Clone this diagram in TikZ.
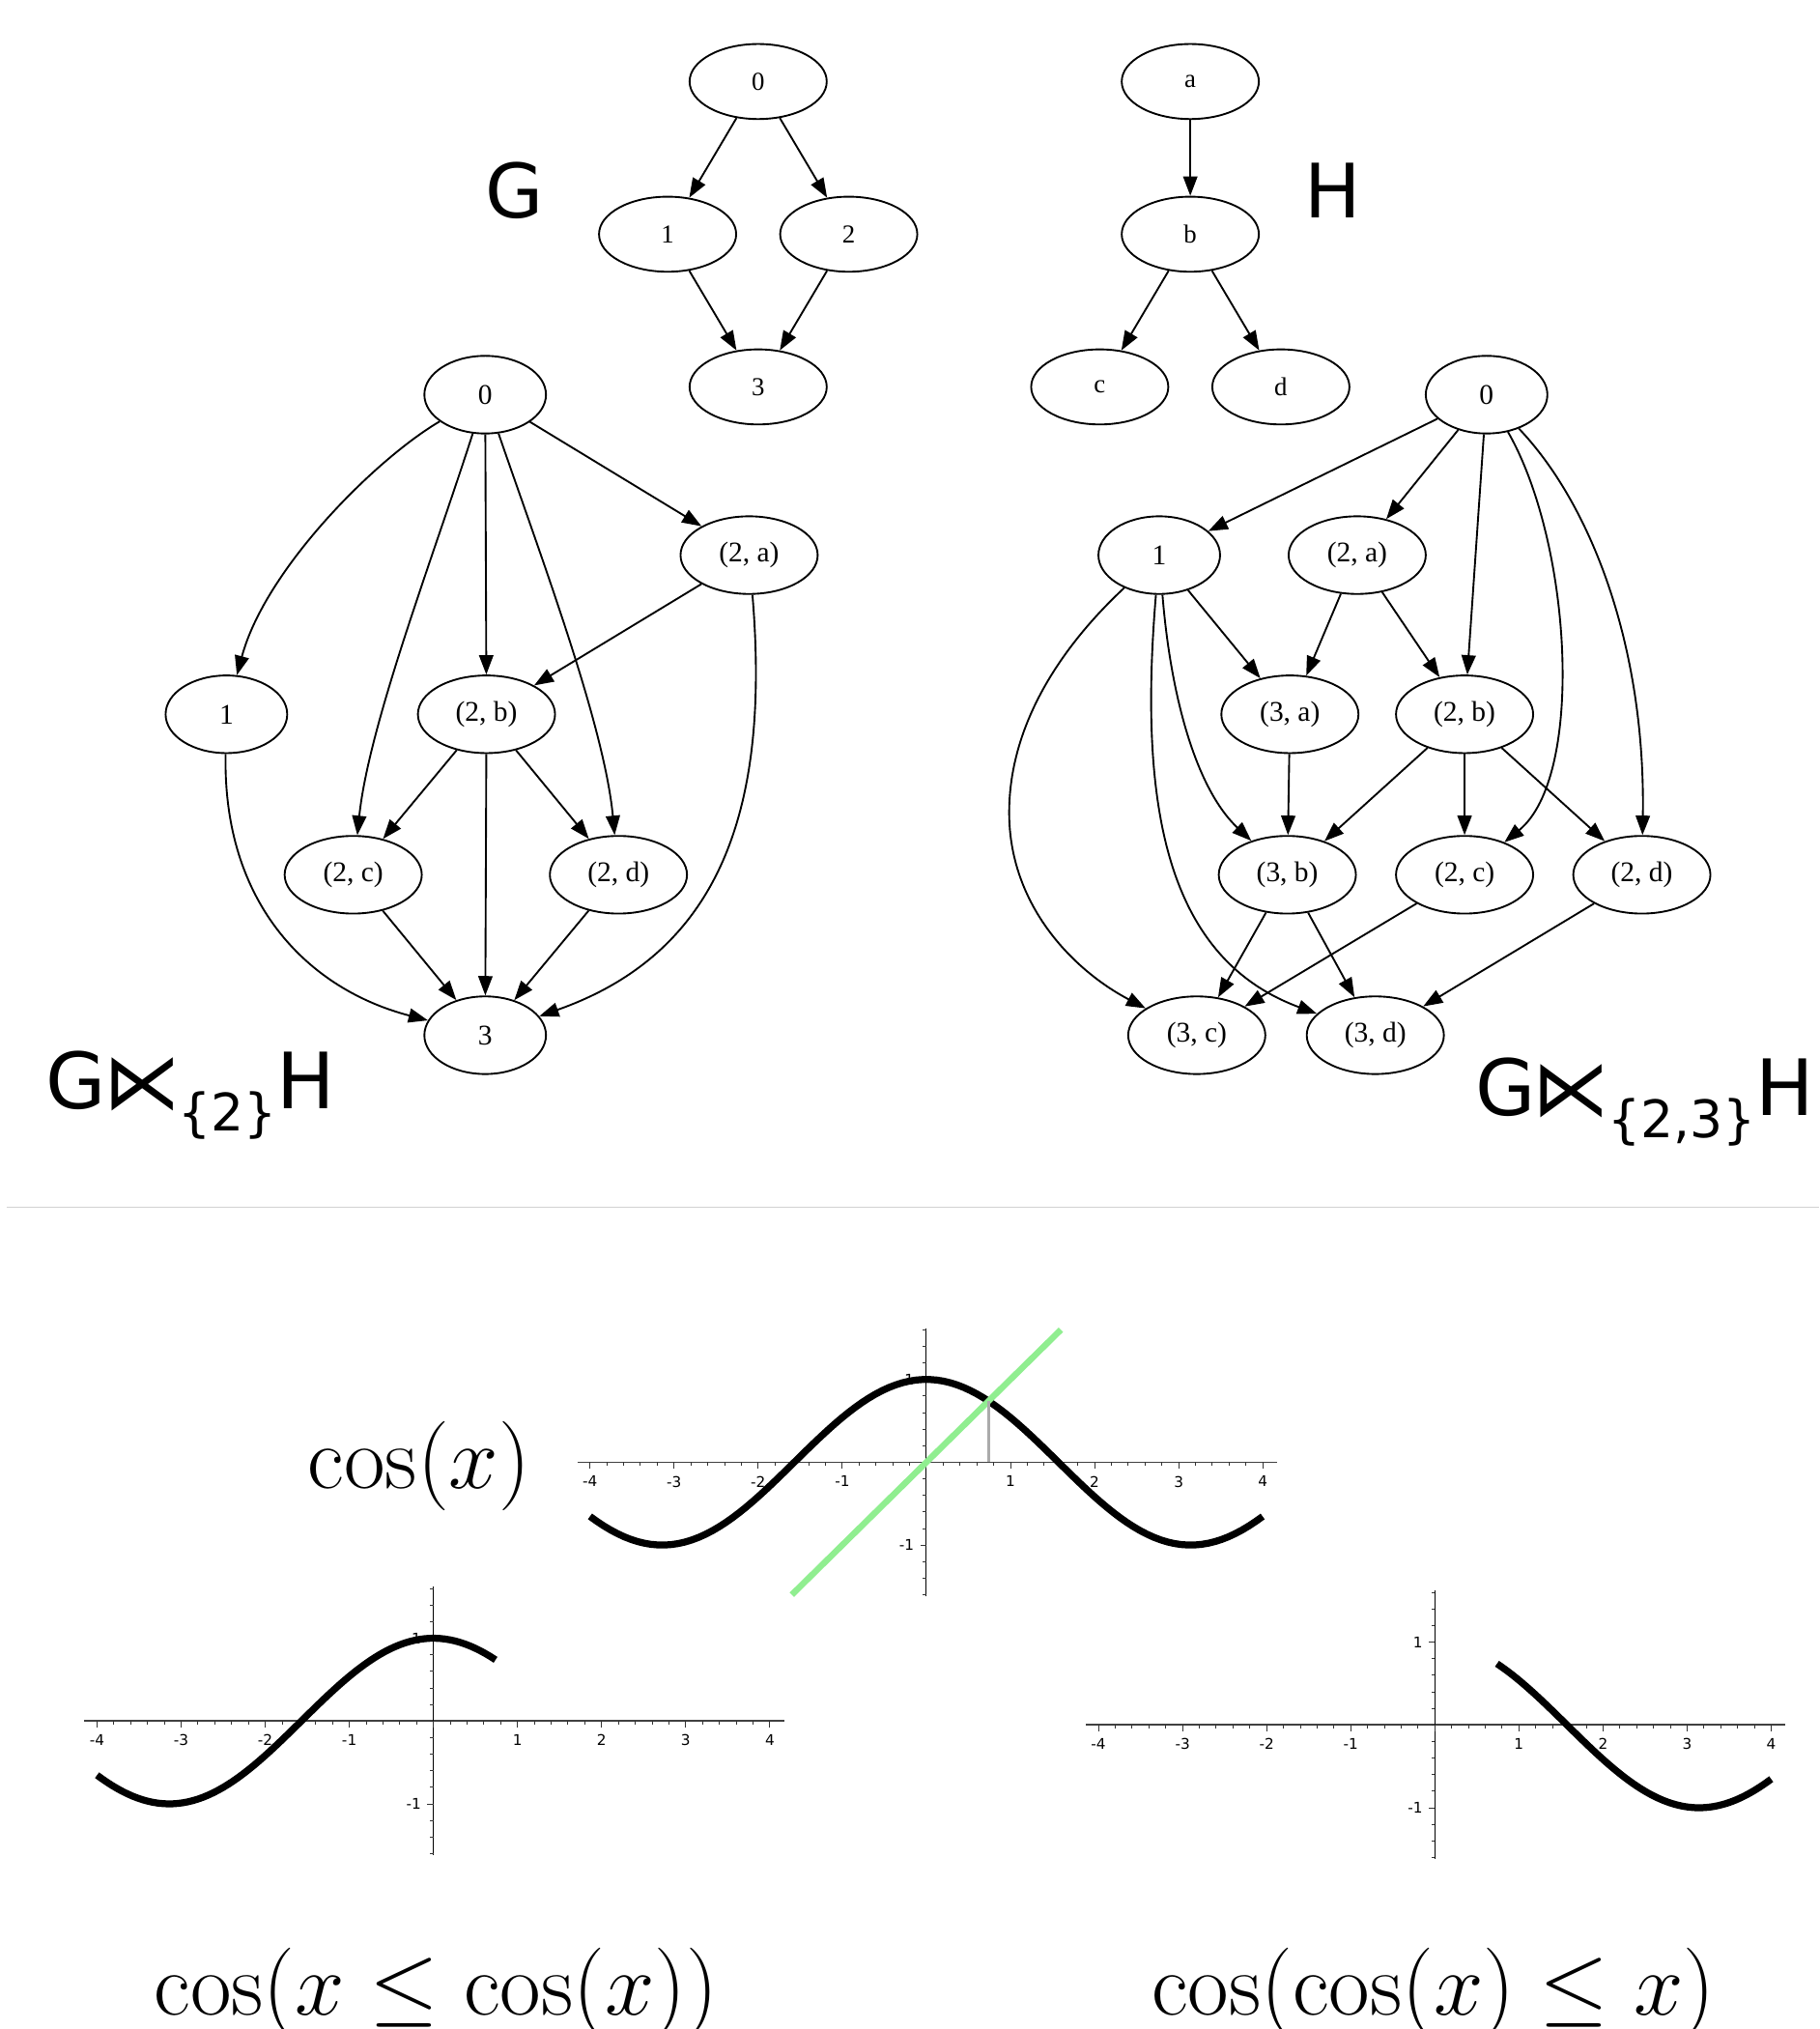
\RequirePackage{fix-cm}
\documentclass[tikz,border=0pt]{standalone}
\usepackage{amsmath}
\usepackage{fontspec}
\usepackage{tikz}
\usetikzlibrary{shapes.geometric, arrows.meta}
\newfontfamily\gvfont{Liberation Serif}
\newfontfamily\dvfont{DejaVu Sans}
\definecolor{lightgreen}{RGB}{144,238,144}
\tikzset{
  topv/.style={ellipse, draw, line width=0.7pt, minimum width=53pt,
    minimum height=29pt, inner sep=0pt, font=\gvfont\fontsize{10}{12}\selectfont},
  vtx/.style={ellipse, draw, line width=0.7pt, minimum width=47pt,
    minimum height=30pt, inner sep=0pt, font=\gvfont\fontsize{11}{13}\selectfont},
  pairv/.style={vtx, minimum width=53pt},
  arr/.style={-{Triangle[length=7.5pt, width=5.5pt]}, line width=0.7pt},
  gname/.style={inner sep=0pt, font=\dvfont\fontsize{29}{34}\selectfont},
  prodname/.style={inner sep=0pt, font=\dvfont\fontsize{30}{36}\selectfont},
  formula/.style={inner sep=0pt, font=\fontsize{34.5}{40}\selectfont},
  sepline/.style={gray!35, line width=0.5pt},
  axisline/.style={black!75, line width=0.6pt},
  yaxisline/.style={black, line width=0.4pt},
  tickline/.style={black!80, line width=0.35pt},
  ticklabel/.style={inner sep=1pt, font=\dvfont\fontsize{5.7}{6.5}\selectfont},
  cosline/.style={black, line width=2.7pt},
  idline/.style={lightgreen, line width=2.4pt},
  fixline/.style={black!33, line width=1.2pt},
}
\newcommand{\prodsub}[1]{\raisebox{-8.5pt}{\fontsize{20}{24}\selectfont\{#1\}}}
\newcommand{\cosframe}{%
  \draw[axisline] (-4.15,0) -- (4.17,0);
  \draw[yaxisline] (0,-1.62) -- (0,1.62);
  \foreach \i in {-20,...,20}
    \draw[tickline] (\i/5,0) -- ++(0,-1.3pt);
  \foreach \i in {-4,...,4}
    \draw[tickline] (\i,0) -- ++(0,-2.4pt);
  \foreach \i in {-8,...,8}
    \draw[tickline] (0,\i/5) -- ++(-1.3pt,0);
  \foreach \i in {-1,1}
    \draw[tickline] (0,\i) -- ++(-2.4pt,0);
  \foreach \i in {-4,-3,-2,-1,1,2,3,4}
    \node[ticklabel, below] at (\i,-0.13) {\i};
  \foreach \i in {-1,1}
    \node[ticklabel, left] at (-0.11,\i) {\i};
}
\begin{document}
\begin{tikzpicture}[x=0.5pt, y=-0.5pt]
  \useasboundingbox (0,0) rectangle (1406,1568);

  % G
  \node[topv] (g0) at (586,63) {0};
  \node[topv] (g1) at (516,181) {1};
  \node[topv] (g2) at (656,181) {2};
  \node[topv] (g3) at (586,299) {3};
  \node[gname] (gtitle) at (398,147) {G};
  \draw[arr] (g0) -- (g1);
  \draw[arr] (g0) -- (g2);
  \draw[arr] (g1) -- (g3);
  \draw[arr] (g2) -- (g3);

  % H
  \node[topv] (ha) at (920,63) {a};
  \node[topv] (hb) at (920,181) {b};
  \node[topv] (hc) at (850,299) {c};
  \node[topv] (hd) at (990,299) {d};
  \node[gname] (htitle) at (1030,147) {H};
  \draw[arr] (ha) -- (hb);
  \draw[arr] (hb) -- (hc);
  \draw[arr] (hb) -- (hd);

  % G semidirect {2} H
  \node[vtx] (l0) at (375,305) {0};
  \node[pairv] (l2a) at (579,429) {(2, a)};
  \node[vtx] (l1) at (175,552) {1};
  \node[pairv] (l2b) at (376,552) {(2, b)};
  \node[pairv] (l2c) at (273,676) {(2, c)};
  \node[pairv] (l2d) at (478,676) {(2, d)};
  \node[vtx] (l3) at (375,800) {3};
  \node[prodname, anchor=base west] (ltitle) at (35,857) {G\kern-1pt⋉\kern-1pt\prodsub{2}H};
  \draw[arr] (l0) -- (l2a);
  \draw[arr] (l0) .. controls (290,355) and (205,440) .. (l1);
  \draw[arr] (l0) .. controls (335,430) and (285,560) .. (l2c);
  \draw[arr] (l0) -- (l2b);
  \draw[arr] (l0) .. controls (418,430) and (467,560) .. (l2d);
  \draw[arr] (l2a) -- (l2b);
  \draw[arr] (l2a) .. controls (595,620) and (560,735) .. (l3);
  \draw[arr] (l1) .. controls (172,700) and (240,765) .. (l3);
  \draw[arr] (l2b) -- (l2c);
  \draw[arr] (l2b) -- (l3);
  \draw[arr] (l2b) -- (l2d);
  \draw[arr] (l2c) -- (l3);
  \draw[arr] (l2d) -- (l3);

  % G semidirect {2,3} H
  \node[vtx] (r0) at (1149,305) {0};
  \node[vtx] (r1) at (896,429) {1};
  \node[pairv] (r2a) at (1049,429) {(2, a)};
  \node[pairv] (r3a) at (997,552) {(3, a)};
  \node[pairv] (r2b) at (1132,552) {(2, b)};
  \node[pairv] (r3b) at (995,676) {(3, b)};
  \node[pairv] (r2c) at (1132,676) {(2, c)};
  \node[pairv] (r2d) at (1269,676) {(2, d)};
  \node[pairv] (r3c) at (925,800) {(3, c)};
  \node[pairv] (r3d) at (1063,800) {(3, d)};
  \node[prodname, anchor=base west] (rtitle) at (1140,862) {G\kern-1pt⋉\kern-1pt\prodsub{2,3}H};
  \draw[arr] (r0) -- (r1);
  \draw[arr] (r0) -- (r2a);
  \draw[arr] (r0) -- (r2b);
  \draw[arr] (r0) .. controls (1215,420) and (1225,600) .. (r2c);
  \draw[arr] (r0) .. controls (1230,390) and (1272,500) .. (r2d);
  \draw[arr] (r1) -- (r3a);
  \draw[arr] (r1) .. controls (905,540) and (925,610) .. (r3b);
  \draw[arr] (r1) .. controls (880,620) and (900,740) .. (r3d);
  \draw[arr] (r1) .. controls (820,500) and (780,560) .. (780,628)
    .. controls (780,700) and (830,750) .. (r3c);
  \draw[arr] (r2a) -- (r3a);
  \draw[arr] (r2a) -- (r2b);
  \draw[arr] (r3a) -- (r3b);
  \draw[arr] (r2b) -- (r3b);
  \draw[arr] (r2b) -- (r2c);
  \draw[arr] (r2b) -- (r2d);
  \draw[arr] (r3b) -- (r3c);
  \draw[arr] (r3b) -- (r3d);
  \draw[arr] (r2c) -- (r3c);
  \draw[arr] (r2d) -- (r3d);

  \draw[sepline] (5,933) -- (1406,933);

  % cos plots
  \node[formula, anchor=base] (fcos) at (324,1150) {$\cos(x)$};
  \begin{scope}[shift={(716,1130)}, x=32.5pt, y=32pt]
    \cosframe
    \draw[cosline] plot[domain=-4:4, samples=100] (\x,{cos(\x r)});
    \draw[idline] (-1.6,-1.6) -- (1.6,1.6);
    \draw[fixline] (0.739,0) -- (0.739,0.739);
  \end{scope}

  \begin{scope}[shift={(335,1330)}, x=32.5pt, y=32pt]
    \cosframe
    \draw[cosline] plot[domain=-4:0.739, samples=80] (\x,{cos(\x r)});
  \end{scope}

  \begin{scope}[shift={(1109,1333)}, x=32.5pt, y=32pt]
    \cosframe
    \draw[cosline] plot[domain=0.739:4, samples=80] (\x,{cos(\x r)});
  \end{scope}

  \node[formula, anchor=base] (fleft) at (337,1557) {$\cos(x\leq\cos(x))$};
  \node[formula, anchor=base] (fright) at (1108,1557) {$\cos(\cos(x)\leq x)$};
\end{tikzpicture}
\end{document}
